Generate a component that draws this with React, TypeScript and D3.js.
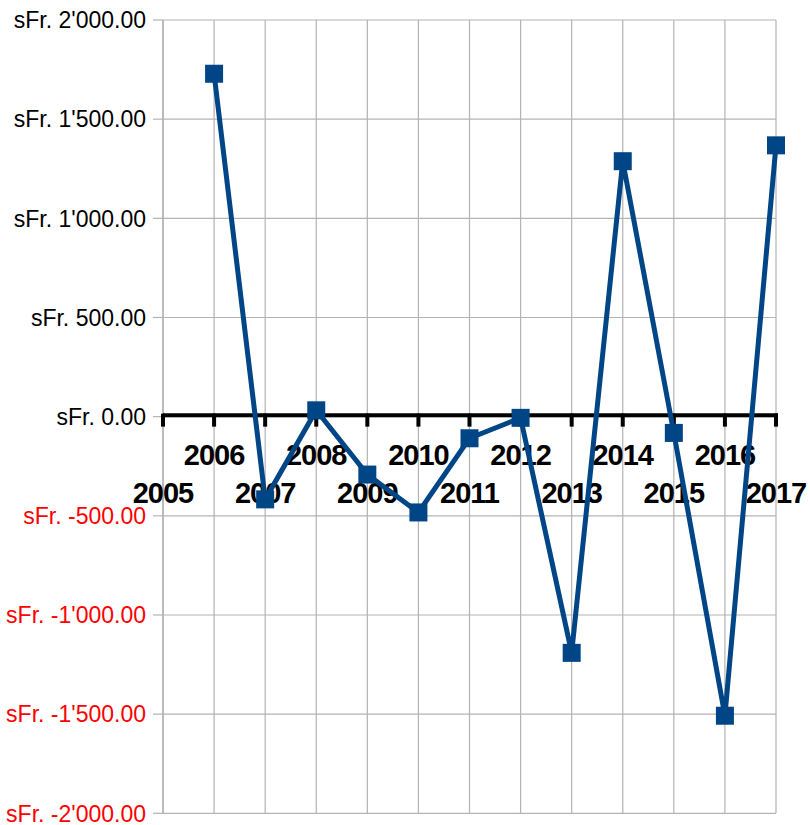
import React from "react";
import * as d3 from "d3";

const years = ["2005","2006","2007","2008","2009","2010","2011","2012","2013","2014","2015","2016","2017"];
const values: (number | null)[] = [null, 1729, -417, 32, -292, -483, -109, -6, -1191, 1288, -82, -1508, 1368];
const yTicks = [2000, 1500, 1000, 500, 0, -500, -1000, -1500, -2000];

const W = 810, H = 825;
const left = 163, right = 776, top = 20, bottom = 813.3;

function fmt(v: number) {
  const s = d3.format(",.2f")(Math.abs(v)).replace(/,/g, "'");
  return "sFr. " + (v < 0 ? "-" : "") + s;
}

export default function App() {
  const x = d3.scalePoint<string>().domain(years).range([left, right]);
  const y = d3.scaleLinear().domain([-2000, 2000]).range([bottom, top]);
  const pts = years.map((yr, i) => ({ yr, v: values[i] })).filter(d => d.v !== null) as { yr: string; v: number }[];
  const line = d3.line<{ yr: string; v: number }>().x(d => x(d.yr)!).y(d => y(d.v));
  const grid = "#b3b3b3";
  const y0 = y(0);
  return (
    <svg width={W} height={H} style={{ position: "absolute", left: 0, top: 0 }}>
      <rect width={W} height={H} fill="#fff" />
      {yTicks.map(t => (
        <g key={t}>
          <line x1={left} x2={right} y1={y(t)} y2={y(t)} stroke={grid} strokeWidth={1.2} />
          <line x1={left - 10} x2={left} y1={y(t)} y2={y(t)} stroke={grid} strokeWidth={1.2} />
          <text x={146} y={y(t)} dy="0.36em" textAnchor="end" fontFamily="Liberation Sans, Arial, sans-serif" fontSize={23} fill={t < 0 ? "#ff0000" : "#000"}>{fmt(t)}</text>
        </g>
      ))}
      {years.map(yr => (
        <line key={yr} x1={x(yr)} x2={x(yr)} y1={top} y2={bottom} stroke={grid} strokeWidth={1.2} />
      ))}
      <line x1={left} x2={left} y1={top} y2={bottom} stroke={grid} strokeWidth={1.5} />
      <line x1={left} x2={right + 2} y1={y0 - 1.5} y2={y0 - 1.5} stroke="#000" strokeWidth={4} />
      {years.map(yr => (
        <rect key={yr} x={x(yr)! - 2} y={y0 - 3} width={4} height={13} fill="#000" />
      ))}
      {years.map((yr, i) => (
        <text key={yr} x={x(yr)} y={i % 2 === 1 ? 465 : 503} textAnchor="middle" fontFamily="Liberation Sans, Arial, sans-serif" fontWeight="bold" fontSize={29} letterSpacing={-1} fill="#000">{yr}</text>
      ))}
      <path d={line(pts) || ""} fill="none" stroke="#004586" strokeWidth={5} strokeLinejoin="miter" />
      {pts.map(d => (
        <rect key={d.yr} x={x(d.yr)! - 9} y={y(d.v) - 9} width={18} height={18} fill="#004586" />
      ))}
    </svg>
  );
}
